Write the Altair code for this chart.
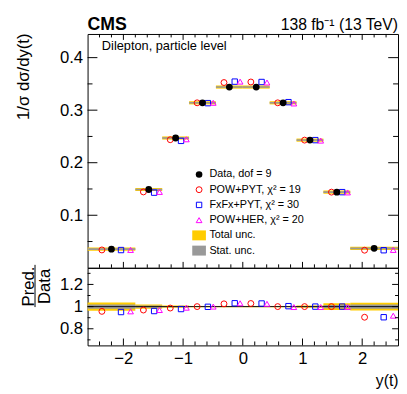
import altair as alt
import pandas as pd

# ---------------- data ----------------
edges = [-2.6, -1.8, -1.35, -0.9, -0.45, 0.0, 0.45, 0.9, 1.35, 1.8, 2.6]
data_vals = [0.0355, 0.149, 0.247, 0.314, 0.344, 0.344, 0.314, 0.243, 0.144, 0.037]
ratio_powpyt = [0.957, 0.969, 0.987, 1.0, 1.025, 1.028, 1.0, 1.0, 1.0, 0.904]
ratio_fxfx = [0.951, 0.960, 0.978, 0.998, 1.03, 1.028, 1.004, 1.0, 1.0, 0.904]
ratio_powher = [0.957, 0.969, 0.990, 1.0, 1.03, 1.025, 0.996, 0.996, 0.996, 0.918]
rel_tot = [0.037, 0.02, 0.01, 0.006, 0.006, 0.006, 0.006, 0.01, 0.03, 0.035]
rel_stat = [0.02, 0.01, 0.005, 0.003, 0.003, 0.003, 0.003, 0.005, 0.015, 0.02]
top_tot = [0.003, 0.003, 0.003, 0.003, 0.003, 0.003, 0.003, 0.003, 0.003, 0.003]
top_stat = [0.0015, 0.0015, 0.0015, 0.0015, 0.0015, 0.0015, 0.0015, 0.0015, 0.0015, 0.0015]

legend_labels = ["Data, dof = 9", "POW+PYT, χ² = 19", "FxFx+PYT, χ² = 30",
                 "POW+HER, χ² = 20", "Total unc.", "Stat. unc."]

x_major = [-2, -1, 0, 1, 2]
x_minor = [-2.4, -2.2, -1.8, -1.6, -1.4, -1.2, -0.8, -0.6, -0.4, -0.2,
           0.2, 0.4, 0.6, 0.8, 1.2, 1.4, 1.6, 1.8, 2.2, 2.4]
y_major = [0.1, 0.2, 0.3, 0.4]
y_minor = [0.05, 0.15, 0.25, 0.35]
r_major = [0.8, 1.0, 1.2]
r_minor = [0.7, 0.9, 1.1, 1.3]

# ---------------- styling ----------------
FONT = "Liberation Sans"
W, H1, H2 = 316, 238, 79
YELLOW, GRAY = "#ffcc00", "#999999"
RED, BLUE, MAG = "#ff0000", "#0000ff", "#ff00ff"
RECT = "M-2.2,-1.6H2.2V1.6H-2.2Z"
models = [("POW+PYT", ratio_powpyt, -0.2, "circle", RED, 36),
          ("FxFx+PYT", ratio_fxfx, 0.2, "square", BLUE, 30),
          ("POW+HER", ratio_powher, 0.4, "triangle-up", MAG, 34)]
# legend symbol styles: (shape, filled, colour, size)
legend_styles = [("circle", True, "black", 45), ("circle", False, RED, 36),
                 ("square", False, BLUE, 30), ("triangle-up", False, MAG, 34),
                 (RECT, True, YELLOW, 40), (RECT, True, GRAY, 40)]

lo = edges[:-1]
hi = edges[1:]
bins = pd.DataFrame({"lo": lo, "hi": hi, "data": data_vals,
                     "rt": rel_tot, "rs": rel_stat, "tt": top_tot, "ts": top_stat})
bins["c"] = (bins["lo"] + bins["hi"]) / 2
bins["w"] = bins["hi"] - bins["lo"]
bins["t_lo"] = bins["data"] - bins["tt"]
bins["t_hi"] = bins["data"] + bins["tt"]
bins["s_lo"] = bins["data"] - bins["ts"]
bins["s_hi"] = bins["data"] + bins["ts"]
bins["rt_lo"] = 1 - bins["rt"]
bins["rt_hi"] = 1 + bins["rt"]
bins["rs_lo"] = 1 - bins["rs"]
bins["rs_hi"] = 1 + bins["rs"]

xs = alt.Scale(domain=[-2.6, 2.6], nice=False, zero=False)
ys = alt.Scale(domain=[0, 0.445], nice=False, zero=False)
rs = alt.Scale(domain=[0.65, 1.35], nice=False, zero=False)
ls = alt.Scale(type="point", domain=legend_labels, range=[143, 220.5], padding=0)

top_yaxis = alt.Axis(values=y_major, format="~g", title="1/σ dσ/dy(t)", titleAngle=-90,
                     titleX=-56, titleY=-1, titleAlign="right", titleBaseline="bottom",
                     titleFontSize=17)
r_axis = alt.Axis(values=r_major, format="~g", title=["Pred.", "Data"], titleAngle=-90,
                  titleX=-55, titleY=18.5, titleAlign="center", titleBaseline="alphabetic",
                  titleLineHeight=16, titleFontSize=17)
x_axis = alt.Axis(values=x_major, format="~g", title="y(t)", titleX=W, titleY=41,
                  titleAlign="right", titleBaseline="alphabetic", titleFontSize=16,
                  labelPadding=5)


def xticks(vals, scale, axis, y0, y1):
    return alt.Chart(pd.DataFrame({"v": vals})).mark_rule(color="black", strokeWidth=1).encode(
        x=alt.X("v:Q", scale=scale, axis=axis), y=alt.value(y0), y2=alt.value(y1))


def yticks(vals, scale, axis, x0, x1):
    return alt.Chart(pd.DataFrame({"v": vals})).mark_rule(color="black", strokeWidth=1).encode(
        y=alt.Y("v:Q", scale=scale, axis=axis), x=alt.value(x0), x2=alt.value(x1))


# ---------------- top panel ----------------
base = alt.Chart(bins)
t_tot = base.mark_rect(color=YELLOW).encode(
    x=alt.X("lo:Q", scale=xs, axis=None), x2="hi:Q",
    y=alt.Y("t_lo:Q", scale=ys, axis=top_yaxis), y2="t_hi:Q")
t_stat = base.mark_rect(color=GRAY).encode(
    x=alt.X("lo:Q", scale=xs, axis=None), x2="hi:Q",
    y=alt.Y("s_lo:Q", scale=ys, axis=None), y2="s_hi:Q")
t_data = base.mark_point(filled=True, color="black", size=48, shape="circle", opacity=1).encode(
    x=alt.X("c:Q", scale=xs, axis=None), y=alt.Y("data:Q", scale=ys, axis=None))

top_layers = [t_tot, t_stat]
bot_model_layers = []
for name, ratios, off, shape, col, sz in models:
    dfm = pd.DataFrame({"x": [c + off * w for c, w in zip(bins["c"], bins["w"])],
                        "r": ratios})
    dfm["y"] = [d * r for d, r in zip(data_vals, ratios)]
    top_layers.append(alt.Chart(dfm).mark_point(
        filled=False, shape=shape, color=col, size=sz, strokeWidth=1, opacity=1).encode(
        x=alt.X("x:Q", scale=xs, axis=None), y=alt.Y("y:Q", scale=ys, axis=None)))
    bot_model_layers.append(alt.Chart(dfm).mark_point(
        filled=False, shape=shape, color=col, size=sz, strokeWidth=1, opacity=1).encode(
        x=alt.X("x:Q", scale=xs, axis=x_axis), y=alt.Y("r:Q", scale=rs, axis=r_axis)))
top_layers.append(t_data)

# ticks (inward)
top_layers += [
    xticks(x_major, xs, None, 0, 6), xticks(x_minor, xs, None, 0, 3.5),
    xticks(x_major, xs, None, H1, H1 - 6), xticks(x_minor, xs, None, H1, H1 - 3.5),
    yticks(y_major, ys, None, 0, 10), yticks(y_minor, ys, None, 0, 5),
    yticks(y_major, ys, None, W, W - 10), yticks(y_minor, ys, None, W, W - 5),
]

# texts
txt = lambda s: alt.Chart(pd.DataFrame({"t": [s]}))
top_layers += [
    txt("CMS").mark_text(font=FONT, fontSize=18, fontWeight="bold", align="left",
                         baseline="alphabetic", color="black").encode(
        text="t:N", x=alt.value(0), y=alt.value(-4.5)),
    txt("138 fb⁻¹ (13 TeV)").mark_text(font=FONT, fontSize=16, align="right",
                                       baseline="alphabetic", color="black").encode(
        text="t:N", x=alt.value(W), y=alt.value(-4.5)),
    txt("Dilepton, particle level").mark_text(font=FONT, fontSize=13, align="left",
                                              baseline="alphabetic", color="black").encode(
        text="t:N", x=alt.value(14.5), y=alt.value(16.5)),
]

# legend: one row per entry, rows placed by a point scale
leg_df = pd.DataFrame({"lab": legend_labels})
for lab, (shape, filled, col, sz) in zip(legend_labels, legend_styles):
    kw = dict(shape=shape, filled=filled, color=col, size=sz, strokeWidth=1, opacity=1)
    if not filled:
        kw["fill"] = "transparent"
    top_layers.append(alt.Chart(leg_df).transform_filter(alt.datum.lab == lab).mark_point(**kw).encode(
        x=alt.value(113.5), y=alt.Y("lab:N", scale=ls, axis=None)))
top_layers.append(alt.Chart(leg_df).mark_text(
    font=FONT, fontSize=11, align="left", baseline="middle", color="black").encode(
    x=alt.value(124), y=alt.Y("lab:N", scale=ls, axis=None), text="lab:N"))

top = alt.layer(*top_layers).resolve_scale(y="independent").properties(width=W, height=H1)

# ---------------- ratio panel ----------------
rbase = alt.Chart(bins)
r_tot = rbase.mark_rect(color=YELLOW).encode(
    x=alt.X("lo:Q", scale=xs, axis=x_axis), x2="hi:Q",
    y=alt.Y("rt_lo:Q", scale=rs, axis=r_axis), y2="rt_hi:Q")
r_stat = rbase.mark_rect(color=GRAY).encode(
    x=alt.X("lo:Q", scale=xs, axis=x_axis), x2="hi:Q",
    y=alt.Y("rs_lo:Q", scale=rs, axis=r_axis), y2="rs_hi:Q")
r_line = alt.Chart(pd.DataFrame({"v": [1.0]})).mark_rule(color="#111111", strokeWidth=1).encode(
    y=alt.Y("v:Q", scale=rs, axis=r_axis))
frac = alt.Chart(pd.DataFrame({"t": ["bar"]})).mark_rule(color="black", strokeWidth=1).encode(
    x=alt.value(-53.5), y=alt.value(-3), y2=alt.value(40))

bot_layers = [r_tot, r_stat, r_line] + bot_model_layers + [
    xticks(x_major, xs, x_axis, H2, H2 - 7), xticks(x_minor, xs, x_axis, H2, H2 - 4),
    yticks(r_major, rs, r_axis, 0, 6), yticks(r_minor, rs, r_axis, 0, 3),
    yticks(r_major, rs, r_axis, W, W - 6), yticks(r_minor, rs, r_axis, W, W - 3),
    frac,
]
bottom = alt.layer(*bot_layers).properties(width=W, height=H2)

chart = alt.vconcat(top, bottom, spacing=0, bounds="flush").properties(
    padding={"left": 6, "top": 4, "right": 0, "bottom": 0}
).configure_axis(
    labelFont=FONT, labelFontSize=17, labelColor="black", titleFont=FONT,
    titleColor="black", titleFontWeight="normal", domain=False, ticks=False, grid=False,
    labelPadding=5
).configure_view(stroke="black", strokeWidth=1)

chart.save("out.html", embed_options={"renderer": "svg", "actions": False})
